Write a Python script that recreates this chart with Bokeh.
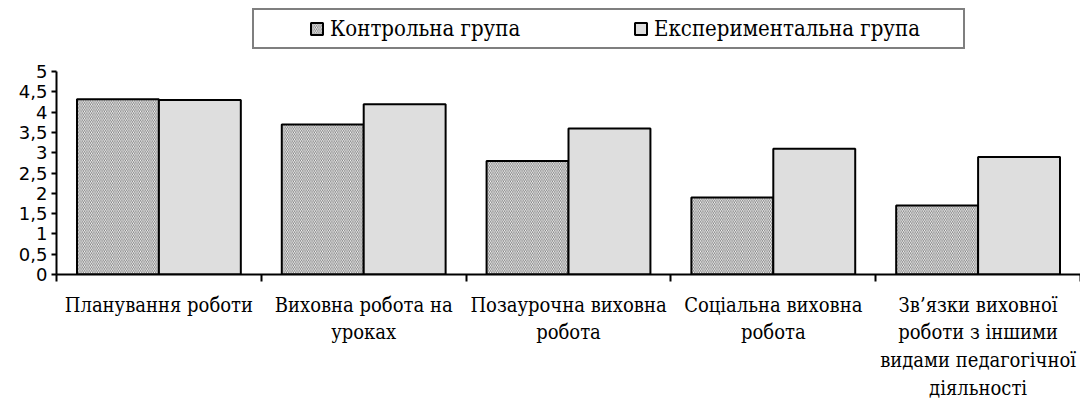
from bokeh.plotting import figure
from bokeh.models import FixedTicker, Legend, LegendItem, Range1d
from bokeh.embed import file_html
from bokeh.resources import INLINE

categories = [
    "Планування роботи",
    "Виховна робота на\nуроках",
    "Позаурочна виховна\nробота",
    "Соціальна виховна\nробота",
    "Зв’язки виховної\nроботи з іншими\nвидами педагогічної\nдіяльності",
]
control = [4.32, 3.7, 2.8, 1.9, 1.7]
experimental = [4.3, 4.2, 3.6, 3.1, 2.9]
series_names = ["Контрольна група", "Експериментальна група"]
y_ticks = [0, 0.5, 1, 1.5, 2, 2.5, 3, 3.5, 4, 4.5, 5]
y_tick_labels = ["0", "0,5", "1", "1,5", "2", "2,5", "3", "3,5", "4", "4,5", "5"]

idx = list(range(len(categories)))
SERIF = "DejaVu Serif Condensed, DejaVu Serif"
SANS = "DejaVu Sans"

p = figure(width=1080, height=403, x_range=Range1d(-0.5, len(categories) - 0.5),
           y_range=Range1d(0, 277 / 41), output_backend="svg", toolbar_location=None,
           min_border_left=56, min_border_right=0, min_border_top=0, min_border_bottom=126)
p.xgrid.visible = False
p.ygrid.visible = False
p.outline_line_color = None
p.background_fill_color = "white"

r1 = p.vbar(x=[i - 0.2 for i in idx], top=control, width=0.4, bottom=0,
            fill_color="white", hatch_pattern="\\", hatch_scale=3.5, hatch_weight=0.8,
            hatch_color="#5e5e5e", line_color="black", line_width=2)
r2 = p.vbar(x=[i + 0.2 for i in idx], top=experimental, width=0.4, bottom=0,
            fill_color="#dedede", line_color="black", line_width=2)

xa = p.xaxis[0]
xa.ticker = FixedTicker(ticks=idx, minor_ticks=[i - 0.5 for i in idx] + [len(idx) - 0.5])
xa.major_label_overrides = {i: c for i, c in zip(idx, categories)}
xa.major_tick_line_color = None
xa.major_tick_out = 6
xa.major_tick_in = 0
xa.minor_tick_out = 7
xa.minor_tick_in = 0
xa.minor_tick_line_color = "black"
xa.minor_tick_line_width = 2
xa.axis_line_width = 2
xa.axis_line_color = "black"
xa.major_label_standoff = 11
xa.major_label_text_font = SERIF
xa.major_label_text_font_size = "20px"
xa.major_label_text_font_style = "normal"
xa.major_label_text_line_height = 1.16
xa.major_label_text_color = "black"

ya = p.yaxis[0]
ya.bounds = (0, 5)
ya.ticker = FixedTicker(ticks=y_ticks)
ya.major_label_overrides = {t: l for t, l in zip(y_ticks, y_tick_labels)}
ya.minor_tick_line_color = None
ya.major_tick_out = 5
ya.major_tick_in = 0
ya.major_tick_line_width = 2
ya.major_tick_line_color = "black"
ya.axis_line_width = 2
ya.axis_line_color = "black"
ya.major_label_standoff = 4
ya.major_label_text_font = SANS
ya.major_label_text_font_size = "18px"
ya.major_label_text_font_style = "normal"
ya.major_label_text_color = "black"

legend = Legend(items=[LegendItem(label=series_names[0], renderers=[r1]),
                       LegendItem(label=series_names[1], renderers=[r2])],
                orientation="horizontal", location=(196, 225),
                title=" ", title_location="left", title_text_font_size="1px",
                title_standoff=48,
                glyph_width=15, glyph_height=15, label_standoff=6,
                label_width=303, spacing=0, padding=6, margin=0,
                label_text_font=SERIF, label_text_font_size="22px",
                label_text_font_style="normal",
                label_text_color="black",
                border_line_color="black", border_line_width=2,
                background_fill_color="white", background_fill_alpha=1)
p.add_layout(legend)

open("out.html", "w").write(file_html(p, INLINE))
